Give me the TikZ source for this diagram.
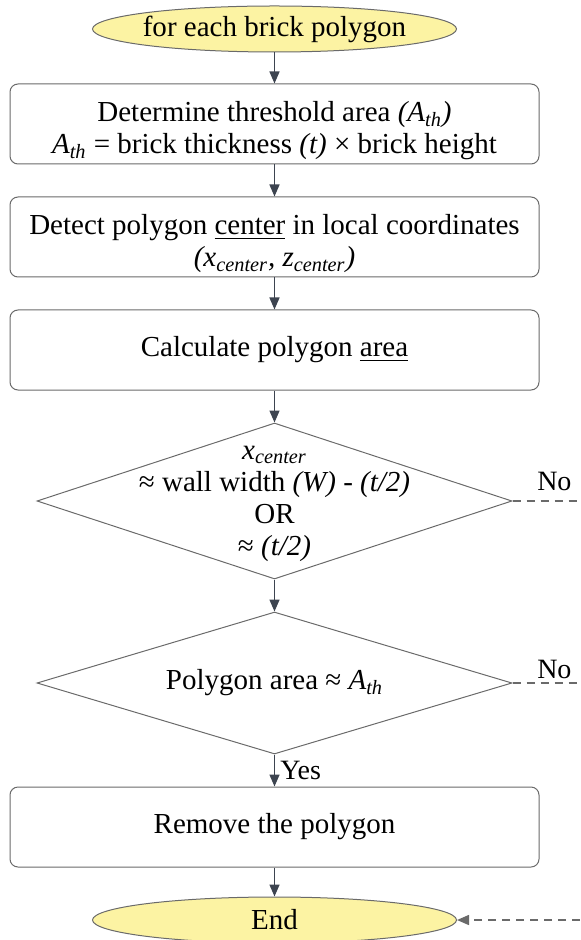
\documentclass[tikz,border=0pt]{standalone}
\usepackage{fontspec}
\setmainfont{Liberation Serif}
\usetikzlibrary{arrows.meta,positioning,shapes.geometric}
\definecolor{termfill}{HTML}{FCF3A3}
\definecolor{edgegray}{HTML}{6A6A6A}
\definecolor{flowc}{HTML}{3D4450}
\newcommand{\Ath}{\textit{A\textsubscript{th}}}
\newcommand{\xc}{\textit{x\textsubscript{center}}}
\newcommand{\zc}{\textit{z\textsubscript{center}}}
\newcommand{\topgap}{\rule{0pt}{17pt}}

\begin{document}
\begin{tikzpicture}[font=\fontsize{14.5}{16}\selectfont, node distance=16pt,
    term/.style={ellipse, draw=edgegray, fill=termfill, line width=0.5pt, inner xsep=-3pt, inner ysep=0pt,
      minimum width=182pt, minimum height=23pt},
    box/.style={draw=edgegray, rounded corners=4pt, line width=0.5pt, align=center, inner sep=0pt,
      minimum width=264.5pt, minimum height=40pt},
    decision/.style={diamond, draw=edgegray, line width=0.5pt, inner sep=0pt, minimum width=237.5pt},
    flow/.style={-{Triangle[length=6pt,width=5pt]}, flowc, line width=0.75pt},
    nopath/.style={edgegray, dash pattern=on 4pt off 3pt, line width=0.75pt},
    tag/.style={text=black, font=\fontsize{14}{16}\selectfont, inner sep=1.5pt}]
  \useasboundingbox (0,0) rectangle (290pt,-470pt);
  \coordinate (rim) at (290pt,0);
  \node[term] (start) at (137.25pt,-14.5pt) {for each brick polygon};
  \node[box, below=15.5pt of start] (thresh) {\topgap Determine threshold area \textit{(A\textsubscript{th})}\\\Ath{} = brick thickness \textit{(t)} × brick height};
  \node[box, below=of thresh] (center) {\topgap Detect polygon \underline{center} in local coordinates\\\textit{(\xc, \zc)}};
  \node[box, below=of center] (area) {Calculate polygon \underline{area}};
  \node[decision, minimum height=78pt, below=of area] (xcheck) {};
  \node[align=center, yshift=-1.5pt] (xchecktxt) at (xcheck) {\xc\\≈ wall width \textit{(W)} - \textit{(t/2)}\\OR\\≈ \textit{(t/2)}};
  \node[decision, minimum height=71pt, below=of xcheck] (areacheck) {};
  \node (areachecktxt) at (areacheck) {Polygon area ≈ \Ath};
  \node[box, below=of areacheck] (remove) {Remove the polygon};
  \node[term, below=14.5pt of remove] (stop) {End};
  \coordinate (noA) at (xcheck.east -| rim);
  \coordinate (noB) at (areacheck.east -| rim);
  \coordinate (noC) at (stop.east -| rim);
  \draw[flow] (start) -- (thresh);
  \draw[flow] (thresh) -- (center);
  \draw[flow] (center) -- (area);
  \draw[flow] (area) -- (xcheck);
  \draw[flow] (xcheck) -- (areacheck);
  \draw[flow] (areacheck) -- node[tag, right, xshift=1pt] (yes) {Yes} (remove);
  \draw[flow] (remove) -- (stop);
  \draw[nopath] (xcheck.east) -- node[tag, pos=0.62, above=3pt] (noa) {No} (noA);
  \draw[nopath] (areacheck.east) -- node[tag, pos=0.62, above=0pt] (nob) {No} (noB);
  \draw[nopath, -{Triangle[length=6pt,width=5pt]}] (noC) -- (stop);
\end{tikzpicture}
\end{document}
